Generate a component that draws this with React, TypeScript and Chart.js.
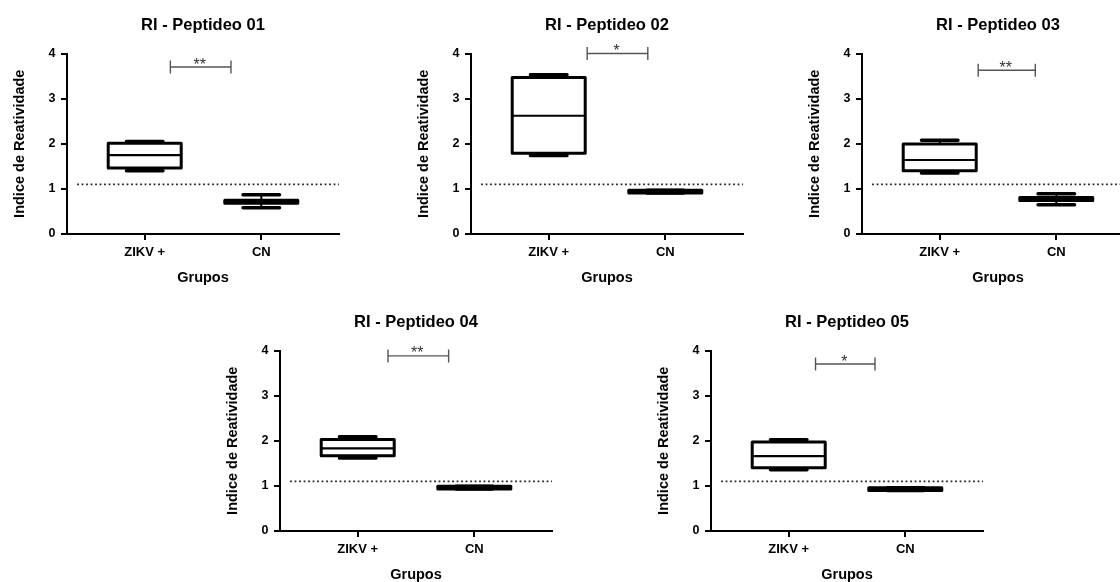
import React, { useEffect, useRef } from 'react';
import { Chart, registerables } from 'chart.js';

Chart.register(...registerables);

// ---------- data ----------
const groups = ['ZIKV +', 'CN'];
const titles = ['RI - Peptideo 01', 'RI - Peptideo 02', 'RI - Peptideo 03', 'RI - Peptideo 04', 'RI - Peptideo 05'];
const yTicks = [0, 1, 2, 3, 4];
const q1Values = [[1.46, 0.68], [1.79, 0.91], [1.4, 0.74], [1.67, 0.93], [1.4, 0.9]];
const q3Values = [[2.01, 0.75], [3.47, 0.97], [1.995, 0.81], [2.03, 0.99], [1.97, 0.96]];
const medianValues = [[1.75, 0.72], [2.62, 0.94], [1.64, 0.775], [1.83, 0.96], [1.66, 0.93]];
const minValues = [[1.4, 0.58], [1.74, 0.91], [1.35, 0.65], [1.62, 0.93], [1.36, 0.9]];
const maxValues = [[2.05, 0.87], [3.53, 0.97], [2.08, 0.89], [2.09, 0.99], [2.02, 0.96]];
const cutoffValue = 1.1;
const cutoffStart = -0.58;
const sigLabels = ['**', '*', '**', '**', '*'];
const sigY = [3.7, 4.0, 3.63, 3.88, 3.7];
const sigStart = [0.22, 0.33, 0.33, 0.26, 0.23];
const sigEnd = [0.74, 0.85, 0.82, 0.78, 0.74];
const xMin = -2 / 3;
const xMax = 5 / 3;

// ---------- layout ----------
const FONT = '"Liberation Sans", Arial, Helvetica, sans-serif';
const panelPos = [
  { left: 5, top: 0 },
  { left: 409, top: 0 },
  { left: 800, top: 0 },
  { left: 218, top: 297 },
  { left: 649, top: 297 },
];
const CW = 340;
const CH = 300;
const Y_AXIS_W = 62;
const X_AXIS_H = 66;
const BAR_W = 73;

const boxPlugin = {
  id: 'boxDetails',
  afterDatasetsDraw(chart: any, _args: any, opts: any) {
    const p = opts.panel as number;
    const { ctx } = chart;
    const xs = chart.scales.x;
    const ys = chart.scales.y;
    const meta = chart.getDatasetMeta(0);
    ctx.save();
    ctx.strokeStyle = '#000';
    meta.data.forEach((bar: any, i: number) => {
      const { x: cx, width } = bar.getProps(['x', 'width'], true);
      const half = width / 2;
      const yq1 = ys.getPixelForValue(q1Values[p][i]);
      const yq3 = ys.getPixelForValue(q3Values[p][i]);
      const ymed = ys.getPixelForValue(medianValues[p][i]);
      const ymin = ys.getPixelForValue(minValues[p][i]);
      const ymax = ys.getPixelForValue(maxValues[p][i]);
      // stems
      ctx.lineWidth = 2;
      ctx.lineCap = 'butt';
      ctx.beginPath();
      ctx.moveTo(cx, yq3);
      ctx.lineTo(cx, ymax);
      ctx.moveTo(cx, yq1);
      ctx.lineTo(cx, ymin);
      ctx.stroke();
      // caps
      ctx.lineWidth = 3.5;
      ctx.lineCap = 'round';
      ctx.beginPath();
      ctx.moveTo(cx - half / 2, ymax);
      ctx.lineTo(cx + half / 2, ymax);
      ctx.moveTo(cx - half / 2, ymin);
      ctx.lineTo(cx + half / 2, ymin);
      ctx.stroke();
      // box outline
      ctx.lineWidth = 3;
      ctx.lineJoin = 'round';
      ctx.beginPath();
      ctx.rect(cx - half, yq3, width, yq1 - yq3);
      ctx.stroke();
      // median
      ctx.lineWidth = 2.2;
      ctx.lineCap = 'butt';
      ctx.beginPath();
      ctx.moveTo(cx - half, ymed);
      ctx.lineTo(cx + half, ymed);
      ctx.stroke();
    });
    // significance bracket
    const bx1 = xs.getPixelForValue(sigStart[p]);
    const bx2 = xs.getPixelForValue(sigEnd[p]);
    const by = ys.getPixelForValue(sigY[p]);
    ctx.strokeStyle = '#555';
    ctx.lineWidth = 1.4;
    ctx.lineCap = 'butt';
    ctx.beginPath();
    ctx.moveTo(bx1, by);
    ctx.lineTo(bx2, by);
    ctx.moveTo(bx1, by - 6.5);
    ctx.lineTo(bx1, by + 6.5);
    ctx.moveTo(bx2, by - 6.5);
    ctx.lineTo(bx2, by + 6.5);
    ctx.stroke();
    ctx.fillStyle = '#333';
    ctx.font = `16px ${FONT}`;
    ctx.textAlign = 'center';
    ctx.textBaseline = 'alphabetic';
    ctx.fillText(sigLabels[p], (bx1 + bx2) / 2 - 1, by + 2.5);
    ctx.restore();
  },
};

function makeConfig(p: number): any {
  return {
    type: 'bar',
    data: {
      datasets: [
        {
          type: 'bar',
          data: groups.map((_, i) => ({ x: i, y: [q1Values[p][i], q3Values[p][i]] })),
          backgroundColor: '#fff',
          borderWidth: 0,
          barThickness: BAR_W,
        },
        {
          type: 'line',
          data: [
            { x: cutoffStart, y: cutoffValue },
            { x: xMax, y: cutoffValue },
          ],
          borderColor: '#222',
          borderWidth: 1.8,
          borderDash: [1.8, 2.7],
          pointRadius: 0,
          fill: false,
        },
      ],
    },
    options: {
      responsive: false,
      animation: false,
      devicePixelRatio: 1,
      layout: { padding: { left: 0, right: 6, top: 0, bottom: 0 } },
      plugins: {
        legend: { display: false },
        tooltip: { enabled: false },
        title: {
          display: true,
          text: titles[p],
          fullSize: false,
          color: '#000',
          font: { family: FONT, size: 16.5, weight: 'bold', lineHeight: 1.2 },
          padding: { top: 15.6, bottom: 18.1 },
        },
        boxDetails: { panel: p },
      },
      scales: {
        x: {
          type: 'linear',
          min: xMin,
          max: xMax,
          offset: false,
          afterBuildTicks: (axis: any) => {
            axis.ticks = groups.map((_, i) => ({ value: i }));
          },
          afterFit: (scale: any) => {
            scale.height = X_AXIS_H;
          },
          grid: {
            display: true,
            offset: false,
            drawOnChartArea: false,
            drawTicks: true,
            tickLength: 6,
            color: '#000',
            lineWidth: 2,
          },
          border: { display: true, color: '#000', width: 2 },
          ticks: {
            color: '#000',
            padding: 5,
            autoSkip: false,
            maxRotation: 0,
            font: { family: FONT, size: 13, weight: 'bold' },
            callback: (v: any) => groups[v as number] ?? '',
          },
          title: {
            display: true,
            text: 'Grupos',
            color: '#000',
            font: { family: FONT, size: 14.5, weight: 'bold', lineHeight: 1.2 },
            padding: { top: 0, bottom: 13 },
          },
        },
        y: {
          type: 'linear',
          min: 0,
          max: 4,
          afterBuildTicks: (axis: any) => {
            axis.ticks = yTicks.map((v) => ({ value: v }));
          },
          afterFit: (scale: any) => {
            scale.width = Y_AXIS_W;
          },
          grid: {
            display: true,
            drawOnChartArea: false,
            drawTicks: true,
            tickLength: 6,
            color: '#000',
            lineWidth: 2,
          },
          border: { display: true, color: '#000', width: 2 },
          ticks: {
            color: '#000',
            padding: 5.5,
            font: { family: FONT, size: 12.5, weight: 'bold' },
            callback: (v: any) => String(v),
          },
          title: {
            display: true,
            text: 'Indice de Reatividade',
            color: '#000',
            font: { family: FONT, size: 14.5, weight: 'bold', lineHeight: 1.2 },
            padding: { top: 5.8, bottom: 0 },
          },
        },
      },
    },
    plugins: [boxPlugin],
  };
}

function Panel({ index }: { index: number }) {
  const ref = useRef<HTMLCanvasElement>(null);
  useEffect(() => {
    if (!ref.current) return;
    const chart = new Chart(ref.current, makeConfig(index));
    return () => chart.destroy();
  }, [index]);
  const pos = panelPos[index];
  return (
    <canvas
      ref={ref}
      width={CW}
      height={CH}
      style={{ position: 'absolute', left: pos.left, top: pos.top, width: CW, height: CH }}
    />
  );
}

export default function App() {
  return (
    <div
      style={{
        position: 'absolute',
        left: 0,
        top: 0,
        width: 1120,
        height: 582,
        overflow: 'hidden',
        background: '#fff',
      }}
    >
      {titles.map((_, i) => (
        <Panel key={i} index={i} />
      ))}
    </div>
  );
}
